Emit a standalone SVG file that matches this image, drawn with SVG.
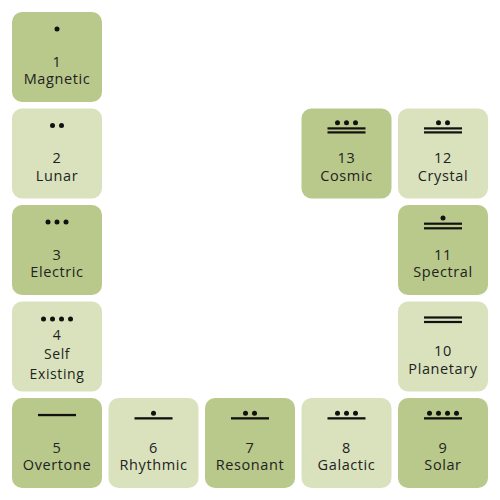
<svg xmlns="http://www.w3.org/2000/svg" width="500" height="500" viewBox="0 0 500 500">
<style>
.tile{stroke:none}
.dark{fill:#b9c98b}
.light{fill:#d9e2bd}
.num,.lbl{font-family:"Open Sans","Noto Sans",sans-serif;font-size:14.5px;fill:#222;text-anchor:middle;letter-spacing:0.6px}
.sm{font-size:14px}
.dot{fill:#111}
.bar{fill:#111}
</style>
<rect width="500" height="500" fill="#ffffff"/>
<g id="connectors"></g>
<g id="n1" transform="translate(12,12)">
<rect class="tile dark" width="90" height="90" rx="10"/>
<circle class="dot" cx="45" cy="17" r="2.5"/>
<text class="num" x="45" y="54.5">1</text>
<text class="lbl" x="45" y="72">Magnetic</text>
</g>
<g id="n2" transform="translate(12,108.5)">
<rect class="tile light" width="90" height="90" rx="10"/>
<circle class="dot" cx="40.5" cy="17" r="2.5"/>
<circle class="dot" cx="49.5" cy="17" r="2.5"/>
<text class="num" x="45" y="54.5">2</text>
<text class="lbl" x="45" y="72">Lunar</text>
</g>
<g id="n3" transform="translate(12,205)">
<rect class="tile dark" width="90" height="90" rx="10"/>
<circle class="dot" cx="36" cy="17" r="2.5"/>
<circle class="dot" cx="45" cy="17" r="2.5"/>
<circle class="dot" cx="54" cy="17" r="2.5"/>
<text class="num" x="45" y="54.5">3</text>
<text class="lbl" x="45" y="72">Electric</text>
</g>
<g id="n4" transform="translate(12,301.5)">
<rect class="tile light" width="90" height="90" rx="10"/>
<circle class="dot" cx="31.5" cy="17.5" r="2.5"/>
<circle class="dot" cx="40.5" cy="17.5" r="2.5"/>
<circle class="dot" cx="49.5" cy="17.5" r="2.5"/>
<circle class="dot" cx="58.5" cy="17.5" r="2.5"/>
<text class="num sm" x="45" y="38.5">4</text>
<text class="lbl sm" x="45" y="57.5">Self</text>
<text class="lbl sm" x="45" y="77">Existing</text>
</g>
<g id="n5" transform="translate(12,398)">
<rect class="tile dark" width="90" height="90" rx="10"/>
<rect class="bar" x="26" y="15.9" width="38" height="2.3"/>
<text class="num" x="45" y="54.5">5</text>
<text class="lbl" x="45" y="72">Overtone</text>
</g>
<g id="n6" transform="translate(108.5,398)">
<rect class="tile light" width="90" height="90" rx="10"/>
<circle class="dot" cx="45" cy="15.3" r="2.5"/>
<rect class="bar" x="26" y="19.2" width="38" height="2.3"/>
<text class="num" x="45" y="54.5">6</text>
<text class="lbl" x="45" y="72">Rhythmic</text>
</g>
<g id="n7" transform="translate(205,398)">
<rect class="tile dark" width="90" height="90" rx="10"/>
<circle class="dot" cx="40.5" cy="15.3" r="2.5"/>
<circle class="dot" cx="49.5" cy="15.3" r="2.5"/>
<rect class="bar" x="26" y="19.2" width="38" height="2.3"/>
<text class="num" x="45" y="54.5">7</text>
<text class="lbl" x="45" y="72">Resonant</text>
</g>
<g id="n8" transform="translate(301.5,398)">
<rect class="tile light" width="90" height="90" rx="10"/>
<circle class="dot" cx="36" cy="15.3" r="2.5"/>
<circle class="dot" cx="45" cy="15.3" r="2.5"/>
<circle class="dot" cx="54" cy="15.3" r="2.5"/>
<rect class="bar" x="26" y="19.2" width="38" height="2.3"/>
<text class="num" x="45" y="54.5">8</text>
<text class="lbl" x="45" y="72">Galactic</text>
</g>
<g id="n9" transform="translate(398,398)">
<rect class="tile dark" width="90" height="90" rx="10"/>
<circle class="dot" cx="31.5" cy="15.3" r="2.5"/>
<circle class="dot" cx="40.5" cy="15.3" r="2.5"/>
<circle class="dot" cx="49.5" cy="15.3" r="2.5"/>
<circle class="dot" cx="58.5" cy="15.3" r="2.5"/>
<rect class="bar" x="26" y="19.2" width="38" height="2.3"/>
<text class="num" x="45" y="54.5">9</text>
<text class="lbl" x="45" y="72">Solar</text>
</g>
<g id="n10" transform="translate(398,301.5)">
<rect class="tile light" width="90" height="90" rx="10"/>
<rect class="bar" x="26" y="14.9" width="38" height="2.2"/>
<rect class="bar" x="26" y="19.4" width="38" height="2.2"/>
<text class="num" x="45" y="54">10</text>
<text class="lbl" x="45" y="72">Planetary</text>
</g>
<g id="n11" transform="translate(398,205)">
<rect class="tile dark" width="90" height="90" rx="10"/>
<circle class="dot" cx="45" cy="13" r="2.5"/>
<rect class="bar" x="26" y="17.6" width="38" height="2.2"/>
<rect class="bar" x="26" y="22.2" width="38" height="2.2"/>
<text class="num" x="45" y="54.5">11</text>
<text class="lbl" x="45" y="72">Spectral</text>
</g>
<g id="n12" transform="translate(398,108.5)">
<rect class="tile light" width="90" height="90" rx="10"/>
<circle class="dot" cx="40.5" cy="14.3" r="2.5"/>
<circle class="dot" cx="49.5" cy="14.3" r="2.5"/>
<rect class="bar" x="26" y="18.8" width="38" height="2.2"/>
<rect class="bar" x="26" y="22.8" width="38" height="2.2"/>
<text class="num" x="45" y="54.5">12</text>
<text class="lbl" x="45" y="72">Crystal</text>
</g>
<g id="n13" transform="translate(301.5,108.5)">
<rect class="tile dark" width="90" height="90" rx="10"/>
<circle class="dot" cx="36" cy="14.3" r="2.5"/>
<circle class="dot" cx="45" cy="14.3" r="2.5"/>
<circle class="dot" cx="54" cy="14.3" r="2.5"/>
<rect class="bar" x="26" y="18.8" width="38" height="2.2"/>
<rect class="bar" x="26" y="22.8" width="38" height="2.2"/>
<text class="num" x="45" y="54.5">13</text>
<text class="lbl" x="45" y="72">Cosmic</text>
</g>
</svg>
